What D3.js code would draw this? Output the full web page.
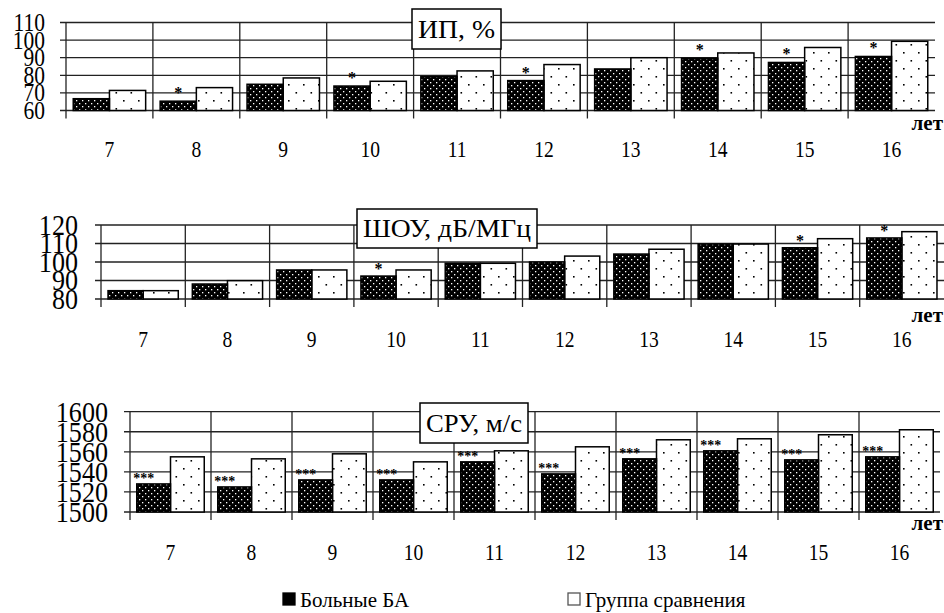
<!DOCTYPE html>
<html>
<head>
<meta charset="utf-8">
<script src="https://cdn.jsdelivr.net/npm/d3@7"></script>
<style>
  body { margin: 0; background: #fff; }
</style>
</head>
<body>
<div id="chart"></div>
<script>
// ages (x categories)
const ages = ["7", "8", "9", "10", "11", "12", "13", "14", "15", "16"];

// ИП, %
const ipPatients = [66.7, 65.3, 74.9, 73.9, 79.3, 77.0, 83.6, 89.7, 87.3, 90.7];
const ipControl  = [71.4, 73.0, 78.5, 76.6, 82.5, 86.1, 90.0, 92.7, 95.8, 99.3];
const ipStars    = ["", "*", "", "*", "", "*", "", "*", "*", "*"];
const ipTicks    = [60, 70, 80, 90, 100, 110];

// ШОУ, дБ/МГц
const shouPatients = [84.5, 88.1, 95.7, 92.4, 99.3, 100.0, 104.3, 109.7, 107.7, 113.0];
const shouControl  = [84.5, 89.9, 95.7, 95.7, 99.3, 103.2, 106.9, 109.7, 112.6, 116.4];
const shouStars    = ["", "", "", "*", "", "", "", "", "*", "*"];
const shouTicks    = [80, 90, 100, 110, 120];

// СРУ, м/с
const sruPatients = [1528, 1525, 1532, 1532, 1550, 1538, 1553, 1561, 1552, 1555];
const sruControl  = [1555, 1553, 1558, 1550, 1561, 1565, 1572, 1573, 1577, 1582];
const sruStars    = ["***", "***", "***", "***", "***", "***", "***", "***", "***", "***"];
const sruTicks    = [1500, 1520, 1540, 1560, 1580, 1600];

const legendLabels = ["Больные БА", "Группа сравнения"];
const unitLabel = "лет";

const W = 944, H = 613;

// pick a serif face that is really installed (canvas width test)
function pickFont(list, fallback) {
  const ctx = document.createElement("canvas").getContext("2d");
  const probe = "ИП ШОУ 1234567890 Группа";
  ctx.font = "40px monospace";
  const base = ctx.measureText(probe).width;
  for (const f of list) {
    ctx.font = `40px "${f}", monospace`;
    if (Math.abs(ctx.measureText(probe).width - base) > 0.5) return `"${f}"`;
  }
  return fallback;
}
const serif = pickFont(["Liberation Serif", "DejaVu Serif", "Tinos", "Times New Roman", "Noto Serif",
                        "FreeSerif", "Nimbus Roman", "Noto Serif CJK SC", "Liberation Sans Narrow"],
                       "'Liberation Sans', sans-serif");

const svg = d3.select("#chart").append("svg")
    .attr("width", W)
    .attr("height", H)
    .attr("font-family", serif);

// fill patterns: dense white dots on black, sparse black dots on white
const defs = svg.append("defs");
const pDark = defs.append("pattern")
    .attr("id", "darkDots")
    .attr("patternUnits", "userSpaceOnUse")
    .attr("width", 6).attr("height", 6);
pDark.append("rect").attr("width", 6).attr("height", 6).attr("fill", "#000");
pDark.append("rect").attr("x", 1).attr("y", 1).attr("width", 1.3).attr("height", 1.3).attr("fill", "#fff");
pDark.append("rect").attr("x", 4).attr("y", 4).attr("width", 1.3).attr("height", 1.3).attr("fill", "#fff");

const pLight = defs.append("pattern")
    .attr("id", "lightDots")
    .attr("patternUnits", "userSpaceOnUse")
    .attr("width", 15).attr("height", 16);
pLight.append("rect").attr("width", 15).attr("height", 16).attr("fill", "#fff");
pLight.append("rect").attr("x", 3).attr("y", 4).attr("width", 1.6).attr("height", 1.6).attr("fill", "#000");
pLight.append("rect").attr("x", 10.5).attr("y", 12).attr("width", 1.6).attr("height", 1.6).attr("fill", "#000");

function drawPanel(cfg) {
  const g = svg.append("g");

  const x = d3.scaleBand()
      .domain(ages)
      .range([cfg.left, cfg.right])
      .paddingInner(0).paddingOuter(0);

  const xs = d3.scaleBand()
      .domain(["p", "c"])
      .range([0, x.bandwidth()])
      .paddingOuter(0.2).paddingInner(0);

  const y = d3.scaleLinear()
      .domain([cfg.ticks[0], cfg.ticks[cfg.ticks.length - 1]])
      .range([cfg.bottom, cfg.top]);

  // horizontal gridlines (stick out left as ticks)
  g.selectAll(".hgrid")
    .data(cfg.ticks)
    .enter().append("line")
    .attr("x1", cfg.left - 6)
    .attr("x2", cfg.right)
    .attr("y1", d => y(d))
    .attr("y2", d => y(d))
    .attr("stroke", "#222")
    .attr("stroke-width", 1.3);

  // vertical category separators
  g.selectAll(".vgrid")
    .data(ages)
    .enter().append("line")
    .attr("x1", d => x(d))
    .attr("x2", d => x(d))
    .attr("y1", y.range()[1])
    .attr("y2", cfg.bottom + 8)
    .attr("stroke", "#222")
    .attr("stroke-width", 1.3);

  // y labels
  g.selectAll(".ylab")
    .data(cfg.ticks)
    .enter().append("text")
    .attr("transform", d => `translate(${cfg.left - cfg.labelGap},${y(d)}) scale(${cfg.ySx},1)`)
    .attr("dy", "0.34em")
    .attr("text-anchor", "end")
    .style("font-size", cfg.yFont + "px")
    .text(d => d);

  // bars
  const rows = ages.map((a, i) => ({ age: a, p: cfg.patients[i], c: cfg.control[i], star: cfg.stars[i] }));

  g.selectAll(".barC")
    .data(rows)
    .enter().append("rect")
    .attr("x", d => x(d.age) + xs("c"))
    .attr("y", d => y(d.c))
    .attr("width", xs.bandwidth())
    .attr("height", d => cfg.bottom - y(d.c))
    .attr("fill", "url(#lightDots)")
    .attr("stroke", "#000")
    .attr("stroke-width", 1.5);

  g.selectAll(".barP")
    .data(rows)
    .enter().append("rect")
    .attr("x", d => x(d.age) + xs("p"))
    .attr("y", d => y(d.p))
    .attr("width", xs.bandwidth())
    .attr("height", d => cfg.bottom - y(d.p))
    .attr("fill", "url(#darkDots)")
    .attr("stroke", "#000")
    .attr("stroke-width", 1.5);

  // significance stars
  g.selectAll(".star")
    .data(rows.filter(d => d.star))
    .enter().append("text")
    .attr("x", d => x(d.age) + xs("p") + xs.bandwidth() / 2 + cfg.starDx)
    .attr("y", d => y(d.p) - cfg.starGap)
    .attr("text-anchor", "middle")
    .style("font-size", cfg.starFont + "px")
    .style("font-weight", "bold")
    .text(d => d.star);

  // x labels
  g.selectAll(".xlab")
    .data(ages)
    .enter().append("text")
    .attr("transform", d => `translate(${x(d) + x.bandwidth() / 2},${cfg.xLabelY}) scale(0.85,1)`)
    .attr("text-anchor", "middle")
    .style("font-size", "23px")
    .text(d => d);

  // unit
  g.append("text")
    .attr("x", 943)
    .attr("y", cfg.unitY)
    .attr("text-anchor", "end")
    .style("font-size", "21px")
    .style("font-weight", "bold")
    .text(unitLabel);

  // title box
  const tb = cfg.titleBox;
  g.append("rect")
    .attr("x", tb[0]).attr("y", tb[1])
    .attr("width", tb[2]).attr("height", tb[3])
    .attr("fill", "#fff")
    .attr("stroke", "#000")
    .attr("stroke-width", 1.5);
  g.append("text")
    .attr("x", tb[0] + tb[2] / 2)
    .attr("y", tb[1] + tb[3] / 2)
    .attr("dy", "0.35em")
    .attr("text-anchor", "middle")
    .attr("textLength", tb[2] - 12)
    .attr("lengthAdjust", "spacingAndGlyphs")
    .style("font-size", "25px")
    .text(cfg.title);
}

drawPanel({
  title: "ИП, %", patients: ipPatients, control: ipControl, stars: ipStars, ticks: ipTicks,
  left: 66, right: 935, top: 22.5, bottom: 110.5,
  labelGap: 21, ySx: 0.86, yFont: 25,
  xLabelY: 157, unitY: 130,
  starFont: 16, starGap: 3, starDx: 0,
  titleBox: [412, 9, 89, 40]
});

drawPanel({
  title: "ШОУ, дБ/МГц", patients: shouPatients, control: shouControl, stars: shouStars, ticks: shouTicks,
  left: 101, right: 944, top: 225, bottom: 299,
  labelGap: 23, ySx: 0.9, yFont: 29,
  xLabelY: 347, unitY: 322,
  starFont: 16, starGap: 2, starDx: 0,
  titleBox: [357, 209, 180, 39]
});

drawPanel({
  title: "СРУ, м/с", patients: sruPatients, control: sruControl, stars: sruStars, ticks: sruTicks,
  left: 130, right: 940, top: 411.7, bottom: 512,
  labelGap: 22, ySx: 0.9, yFont: 29,
  xLabelY: 560, unitY: 530,
  starFont: 14, starGap: 1, starDx: -10,
  titleBox: [420, 403, 108, 40]
});

// legend
const legend = svg.append("g");
const legendX = [283, 568];
legendLabels.forEach((lab, i) => {
  legend.append("rect")
    .attr("x", legendX[i]).attr("y", 593)
    .attr("width", 12).attr("height", 12)
    .attr("fill", i === 0 ? "#000" : "#fff")
    .attr("stroke", i === 0 ? "#000" : "#555")
    .attr("stroke-width", 1.3);
  legend.append("text")
    .attr("x", legendX[i] + 17)
    .attr("y", 607)
    .style("font-size", "21px")
    .text(lab);
});
</script>
</body>
</html>
